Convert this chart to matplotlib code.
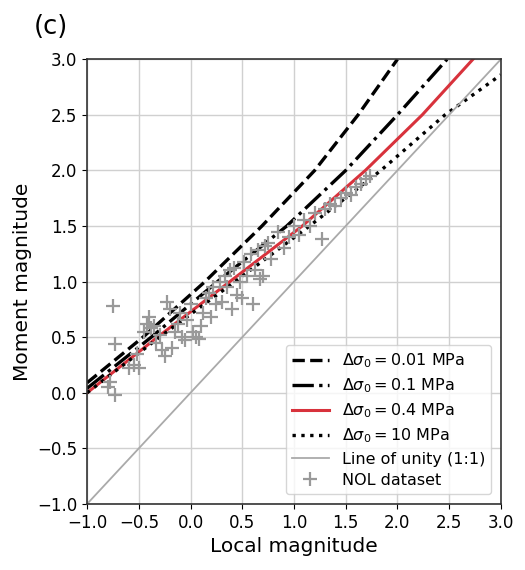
import numpy as np
import matplotlib.pyplot as plt

# curves: local magnitude -> moment magnitude
ml_001 = [-1.0, -0.46, 0.14, 0.69, 1.20, 1.62, 2.00]
mw_001 = [0.09, 0.50, 1.00, 1.50, 2.00, 2.50, 3.00]

ml_01 = [-1.0, -0.38, 0.26, 0.93, 1.50, 2.00, 2.48]
mw_01 = [0.04, 0.50, 1.00, 1.50, 2.00, 2.50, 3.00]

ml_04 = [-1.0, -0.32, 0.38, 1.08, 1.69, 2.24, 2.73]
mw_04 = [0.00, 0.50, 1.00, 1.50, 2.00, 2.50, 3.00]

ml_10 = [-1.0, -0.30, 0.43, 1.15, 1.84, 2.46, 3.00]
mw_10 = [0.00, 0.50, 1.00, 1.50, 2.00, 2.50, 2.86]

unity = [-1.0, 3.0]

# NOL dataset
nol_ml = [-0.75, -0.73, -0.73, -0.78, -0.80, -0.60, -0.55, -0.50, -0.52, -0.45,
          -0.42, -0.40, -0.38, -0.35, -0.33, -0.30, -0.28, -0.25, -0.23, -0.20,
          -0.18, -0.15, -0.12, -0.10, -0.08, -0.05, -0.03, 0.00, 0.02, 0.05,
          0.08, 0.10, 0.12, 0.15, 0.18, 0.20, 0.22, 0.25, 0.28, 0.30,
          0.33, 0.35, 0.38, 0.40, 0.42, 0.45, 0.48, 0.50, 0.52, 0.55,
          0.58, 0.60, 0.62, 0.65, 0.67, 0.70, 0.72, 0.75, 0.78, 0.85,
          0.90, 0.95, 1.00, 1.05, 1.10, 1.15, 1.20, 1.27, 1.30, 1.35,
          1.40, 1.45, 1.50, 1.55, 1.60, 1.65, 1.70, 1.73]
nol_mw = [0.78, 0.44, -0.02, 0.10, 0.05, 0.22, 0.25, 0.22, 0.35, 0.55,
          0.62, 0.68, 0.58, 0.60, 0.45, 0.52, 0.38, 0.33, 0.82, 0.75,
          0.40, 0.55, 0.62, 0.72, 0.50, 0.47, 0.65, 0.80, 0.55, 0.50,
          0.48, 0.60, 0.72, 0.85, 0.90, 0.68, 0.95, 0.80, 1.00, 0.82,
          1.05, 0.95, 1.10, 0.75, 1.12, 0.88, 1.00, 0.85, 1.18, 1.05,
          1.25, 0.80, 1.10, 1.28, 1.02, 1.05, 1.32, 1.35, 1.20, 1.45,
          1.30, 1.40, 1.50, 1.42, 1.55, 1.50, 1.62, 1.38, 1.65, 1.70,
          1.68, 1.75, 1.80, 1.78, 1.85, 1.88, 1.92, 1.95]

ticks = [-1.0, -0.5, 0.0, 0.5, 1.0, 1.5, 2.0, 2.5, 3.0]

fig = plt.figure(figsize=(5.25, 5.7), dpi=100)
ax = fig.add_axes([0.166, 0.116, 0.788, 0.780])

ax.plot(ml_001, mw_001, 'k--', lw=2.4, label=r'$\Delta\sigma_0 = 0.01$ MPa')
ax.plot(ml_01, mw_01, 'k-.', lw=2.4, label=r'$\Delta\sigma_0 = 0.1$ MPa')
ax.plot(ml_04, mw_04, color='#d8323c', lw=2.2, label=r'$\Delta\sigma_0 = 0.4$ MPa')
ax.plot(ml_10, mw_10, 'k:', lw=2.4, label=r'$\Delta\sigma_0 = 10$ MPa')
ax.plot(unity, unity, color='#aaaaaa', lw=1.3, label='Line of unity (1:1)')
ax.plot(nol_ml, nol_mw, '+', color='#999999', ms=10, mew=1.6, label='NOL dataset')

ax.set_xlim(-1, 3)
ax.set_ylim(-1, 3)
ax.set_xticks(ticks)
ax.set_yticks(ticks)
ax.grid(True, color='#d0d0d0', lw=1)
ax.set_axisbelow(True)
ax.tick_params(labelsize=12)
for s in ax.spines.values():
    s.set_color('#333333')
    s.set_linewidth(1.2)

ax.set_xlabel('Local magnitude', fontsize=14.5)
ax.set_ylabel('Moment magnitude', fontsize=14.5)
ax.legend(loc='lower right', fontsize=11.5, handlelength=2.3, labelspacing=0.4,
          borderaxespad=0.6)

fig.text(0.065, 0.952, '(c)', fontsize=18.5, va='center')

plt.savefig('out.png', dpi=100)
